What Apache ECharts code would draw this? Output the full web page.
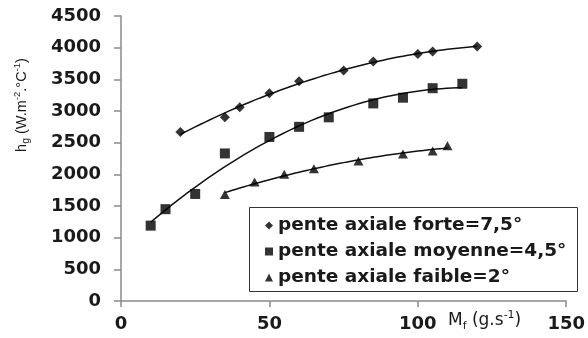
<!DOCTYPE html>
<html>
<head>
<meta charset="utf-8">
<script src="https://cdn.jsdelivr.net/npm/echarts@6/dist/echarts.min.js"></script>
<style>
  html, body { margin: 0; padding: 0; background: #fff; }
  #chart { width: 588px; height: 338px; }
</style>
</head>
<body>
<div id="chart"></div>
<script>
// Heat transfer coefficient hg versus mass flow Mf, for three axial slopes
const seriesNames = ['pente axiale forte=7,5°', 'pente axiale moyenne=4,5°', 'pente axiale faible=2°'];

const forteX = [20, 35, 40, 50, 60, 75, 85, 100, 105, 120];
const forteY = [2670, 2900, 3060, 3280, 3470, 3640, 3780, 3900, 3940, 4020];

const moyenneX = [10, 15, 25, 35, 50, 60, 70, 85, 95, 105, 115];
const moyenneY = [1190, 1450, 1690, 2330, 2590, 2750, 2900, 3120, 3210, 3360, 3430];

const faibleX = [35, 45, 55, 65, 80, 95, 105, 110];
const faibleY = [1680, 1880, 2000, 2090, 2210, 2320, 2370, 2450];

const xAxisRange = [0, 150, 50];   // min, max, interval
const yAxisRange = [0, 4500, 500];

const symbols = ['diamond', 'rect', 'triangle'];
const symbolSizes = [[10, 10], [10, 10], [10, 9]];

// Second-order polynomial least-squares trendline
function quadFit(xs, ys) {
  let s0 = xs.length, s1 = 0, s2 = 0, s3 = 0, s4 = 0, t0 = 0, t1 = 0, t2 = 0;
  for (let i = 0; i < xs.length; i++) {
    const x = xs[i], y = ys[i];
    s1 += x; s2 += x * x; s3 += x * x * x; s4 += x * x * x * x;
    t0 += y; t1 += x * y; t2 += x * x * y;
  }
  const M = [[s0, s1, s2, t0], [s1, s2, s3, t1], [s2, s3, s4, t2]];
  for (let c = 0; c < 3; c++) {
    let p = c;
    for (let r = c + 1; r < 3; r++) if (Math.abs(M[r][c]) > Math.abs(M[p][c])) p = r;
    [M[c], M[p]] = [M[p], M[c]];
    for (let r = 0; r < 3; r++) {
      if (r === c) continue;
      const f = M[r][c] / M[c][c];
      for (let k = c; k < 4; k++) M[r][k] -= f * M[c][k];
    }
  }
  return [M[0][3] / M[0][0], M[1][3] / M[1][1], M[2][3] / M[2][2]];
}

function trendPoints(xs, ys) {
  const [a, b, c] = quadFit(xs, ys);
  const x0 = Math.min(...xs), x1 = Math.max(...xs);
  const pts = [];
  const n = 60;
  for (let i = 0; i <= n; i++) {
    const x = x0 + (x1 - x0) * i / n;
    pts.push([x, a + b * x + c * x * x]);
  }
  return pts;
}

const groups = [[forteX, forteY], [moyenneX, moyenneY], [faibleX, faibleY]];

const series = [];
groups.forEach(([xs, ys], i) => {
  series.push({
    name: seriesNames[i] + ' (tendance)',
    type: 'line',
    data: trendPoints(xs, ys),
    showSymbol: false,
    symbol: 'none',
    lineStyle: { color: '#111', width: 1.5 },
    silent: true,
    z: 2
  });
});
groups.forEach(([xs, ys], i) => {
  series.push({
    name: seriesNames[i],
    type: 'scatter',
    data: xs.map((x, k) => [x, ys[k]]),
    symbol: symbols[i],
    symbolSize: symbolSizes[i],
    itemStyle: { color: '#000' },
    z: 3
  });
});

const axisColor = '#8a8a8a';
const textColor = '#1a1a1a';
const tickFont = { fontFamily: 'DejaVu Sans', fontWeight: 'bold', fontSize: 18, color: textColor };

const chart = echarts.init(document.getElementById('chart'), null, { renderer: 'canvas' });
chart.setOption({
  animation: false,
  backgroundColor: '#fff',
  grid: { left: 121, right: 20, top: 16, bottom: 37, containLabel: false },
  xAxis: {
    type: 'value',
    min: xAxisRange[0], max: xAxisRange[1], interval: xAxisRange[2],
    axisLine: { show: true, onZero: false, lineStyle: { color: axisColor, width: 1.5 } },
    axisTick: { show: true, inside: false, length: 6, lineStyle: { color: axisColor, width: 1.5 } },
    axisLabel: Object.assign({ margin: 14, formatter: v => String(v) }, tickFont),
    splitLine: { show: false }
  },
  yAxis: {
    type: 'value',
    min: yAxisRange[0], max: yAxisRange[1], interval: yAxisRange[2],
    axisLine: { show: true, onZero: false, lineStyle: { color: axisColor, width: 1.5 } },
    axisTick: { show: true, inside: false, length: 7, lineStyle: { color: axisColor, width: 1.5 } },
    axisLabel: Object.assign({ margin: 20, formatter: v => String(v) }, tickFont),
    splitLine: { show: false }
  },
  legend: {
    orient: 'vertical',
    left: 249, top: 207,
    data: seriesNames.map((n, i) => ({ name: n, icon: symbols[i] })),
    itemWidth: 8, itemHeight: 8,
    itemGap: 7,
    padding: [9, 0, 0, 16],
    textStyle: { fontFamily: 'DejaVu Sans', fontWeight: 'bold', fontSize: 18.5, lineHeight: 18, color: textColor },
    itemStyle: { color: '#000' }
  },
  graphic: [
    {
      // legend frame
      type: 'rect',
      shape: { x: 249.5, y: 207.5, width: 328, height: 84 },
      style: { fill: 'none', stroke: '#333', lineWidth: 1 },
      z: 10
    },
    {
      type: 'text',
      x: 22, y: 105,
      rotation: Math.PI / 2,
      style: {
        text: '{m|h}{sub|g}{m| (W.m}{sup|-2}{m|.°C}{sup|-1}{m|)}',
        align: 'center', verticalAlign: 'middle',
        fill: textColor,
        rich: {
          m: { fontFamily: 'Liberation Sans', fontSize: 14.5, lineHeight: 20, fill: textColor, verticalAlign: 'middle' },
          sub: { fontFamily: 'Liberation Sans', fontSize: 10.5, lineHeight: 20, fill: textColor, verticalAlign: 'bottom' },
          sup: { fontFamily: 'Liberation Sans', fontSize: 9.5, lineHeight: 20, fill: textColor, verticalAlign: 'top' }
        }
      }
    },
    {
      type: 'text',
      x: 448, y: 321,
      style: {
        text: '{m|M}{sub|f}{m| (g.s}{sup|-1}{m|)}',
        align: 'left', verticalAlign: 'middle',
        fill: textColor,
        rich: {
          m: { fontFamily: 'DejaVu Sans', fontSize: 17, lineHeight: 22, fill: textColor, verticalAlign: 'middle' },
          sub: { fontFamily: 'DejaVu Sans', fontSize: 11, lineHeight: 22, fill: textColor, verticalAlign: 'bottom' },
          sup: { fontFamily: 'DejaVu Sans', fontSize: 11, lineHeight: 22, fill: textColor, verticalAlign: 'top' }
        }
      }
    }
  ],
  series: series
});
</script>
</body>
</html>
